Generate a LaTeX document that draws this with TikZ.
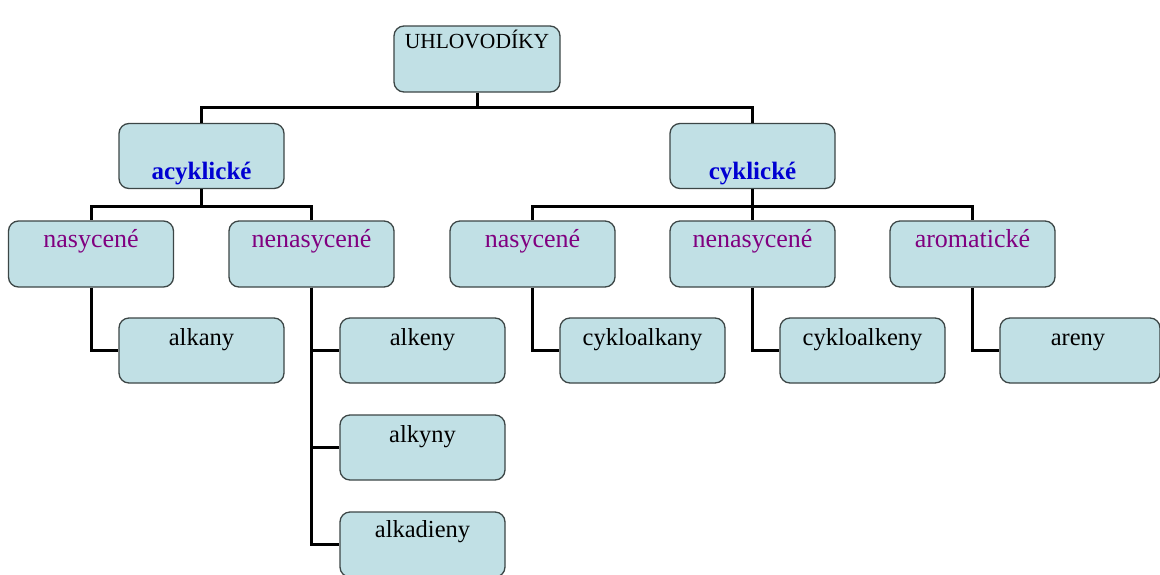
\documentclass[tikz,border=0pt]{standalone}
\usepackage{fontspec}
\setmainfont{Liberation Serif}
\definecolor{boxfill}{RGB}{193,224,229}
\definecolor{boxdraw}{RGB}{60,70,70}
\definecolor{purp}{RGB}{128,0,128}
\definecolor{blu}{RGB}{0,0,210}
\tikzset{
  x=1pt, y=-1pt,
  box/.style={draw=boxdraw, line width=1.3pt, fill=boxfill, rounded corners=10pt,
    minimum width=165pt, minimum height=65pt, inner sep=0pt},
  conn/.style={line width=3pt, black},
  roottxt/.style={anchor=base, font=\fontsize{21.5}{24}\selectfont, black},
  bluetxt/.style={anchor=base, font=\fontsize{25}{28}\selectfont\bfseries, blu},
  purtxt/.style={anchor=base, font=\fontsize{26}{29}\selectfont, purp},
  blktxt/.style={anchor=base, font=\fontsize{24.5}{28}\selectfont, black},
}
\begin{document}
\begin{tikzpicture}
\useasboundingbox (0,0) rectangle (1160,574);
\fill[white] (0,0) rectangle (1160,574);
\begin{scope}
\clip (0,0) rectangle (1160,574);
% boxes
\node[box, minimum width=166pt, minimum height=66pt] (root) at (477,59) {};
\node[box] (acyk) at (201.5,156) {};
\node[box] (cyk) at (752.5,156) {};
\node[box, minimum height=66pt] (nasL) at (91,254) {};
\node[box, minimum height=66pt] (nenL) at (311.5,254) {};
\node[box, minimum height=66pt] (nasR) at (532.5,254) {};
\node[box, minimum height=66pt] (nenR) at (752.5,254) {};
\node[box, minimum height=66pt] (arom) at (972.5,254) {};
\node[box] (alkany) at (201.5,350.5) {};
\node[box] (alkeny) at (422.5,350.5) {};
\node[box] (alkyny) at (422.5,447.5) {};
\node[box] (alkadieny) at (422.5,544.5) {};
\node[box] (cykan) at (642.5,350.5) {};
\node[box] (cyken) at (862.5,350.5) {};
\node[box, minimum width=160pt] (areny) at (1080,350.5) {};
% connectors
\draw[conn] (root.south) -- ++(0,15) -| (acyk.north);
\draw[conn] (root.south) -- ++(0,15) -| (cyk.north);
\draw[conn] (acyk.south) -- ++(0,17) -| (nasL.north);
\draw[conn] (acyk.south) -- ++(0,17) -| (nenL.north);
\draw[conn] (cyk.south) -- ++(0,17) -| (nasR.north);
\draw[conn] (cyk.south) -- ++(0,17) -| (nenR.north);
\draw[conn] (cyk.south) -- ++(0,17) -| (arom.north);
\draw[conn] (nasL.south) |- (alkany.west);
\draw[conn] (nenL.south) |- (alkeny.west);
\draw[conn] (nenL.south) |- (alkyny.west);
\draw[conn] (nenL.south) |- (alkadieny.west);
\draw[conn] (nasR.south) |- (cykan.west);
\draw[conn] (nenR.south) |- (cyken.west);
\draw[conn] (arom.south) |- (areny.west);
% texts
\node[roottxt] (t-root) at ([yshift=-23pt]root.north) {UHLOVODÍKY};
\node[bluetxt] (t-acyk) at ([yshift=10pt]acyk.south) {acyklické};
\node[bluetxt] (t-cyk) at ([yshift=10pt]cyk.south) {cyklické};
\node[purtxt] (t-nasL) at ([yshift=-27pt]nasL.north) {nasycené};
\node[purtxt] (t-nenL) at ([yshift=-27pt]nenL.north) {nenasycené};
\node[purtxt] (t-nasR) at ([yshift=-27pt]nasR.north) {nasycené};
\node[purtxt] (t-nenR) at ([yshift=-27pt]nenR.north) {nenasycené};
\node[purtxt] (t-arom) at ([yshift=-27pt]arom.north) {aromatické};
\node[blktxt] (t-alkany) at ([yshift=-28pt]alkany.north) {alkany};
\node[blktxt] (t-alkeny) at ([yshift=-28pt]alkeny.north) {alkeny};
\node[blktxt] (t-alkyny) at ([yshift=-28pt]alkyny.north) {alkyny};
\node[blktxt] (t-alkadieny) at ([yshift=-26pt]alkadieny.north) {alkadieny};
\node[blktxt] (t-cykan) at ([yshift=-28pt]cykan.north) {cykloalkany};
\node[blktxt] (t-cyken) at ([yshift=-28pt]cyken.north) {cykloalkeny};
\node[blktxt] (t-areny) at ([yshift=-28pt,xshift=-2pt]areny.north) {areny};
\end{scope}
\end{tikzpicture}
\end{document}
